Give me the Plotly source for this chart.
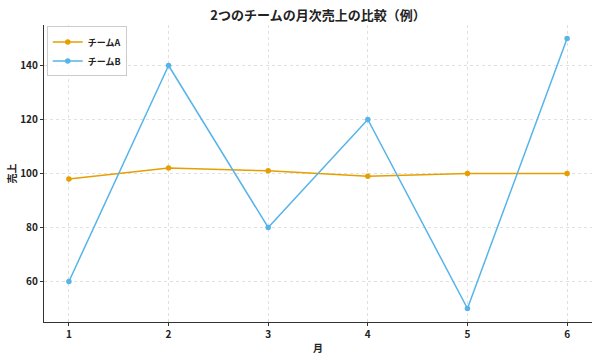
import plotly.graph_objects as go

months = [1, 2, 3, 4, 5, 6]
team_a = [98, 102, 101, 99, 100, 100]
team_b = [60, 140, 80, 120, 50, 150]
y_ticks = [60, 80, 100, 120, 140]

FONT = "Noto Sans CJK JP"

fig = go.Figure()
fig.add_trace(go.Scatter(x=months, y=team_a, mode="lines+markers", name="<b>チームA</b>",
                         line=dict(color="#E69F00", width=1.5), marker=dict(size=5.5, color="#E69F00")))
fig.add_trace(go.Scatter(x=months, y=team_b, mode="lines+markers", name="<b>チームB</b>",
                         line=dict(color="#56B4E9", width=1.5), marker=dict(size=5.5, color="#56B4E9")))

fig.update_layout(
    width=600, height=360,
    margin=dict(l=44, r=8, t=25, b=36),
    paper_bgcolor="white", plot_bgcolor="white",
    font=dict(family=FONT, color="#222", size=10),
    title=dict(text="<b>2つのチームの月次売上の比較（例）</b>", x=0.53, xanchor="center",
               y=0.958, yanchor="middle", font=dict(size=13, color="#222")),
    showlegend=True,
    legend=dict(x=0.005, y=0.995, xanchor="left", yanchor="top", bordercolor="#ccc", borderwidth=1,
                bgcolor="rgba(255,255,255,0.8)", font=dict(size=9), itemwidth=30, tracegroupgap=0),
)
fig.update_xaxes(range=[0.75, 6.25], tickvals=months, ticktext=[f"<b>{m}</b>" for m in months],
                 showline=True, linecolor="#333", linewidth=1.2, ticks="outside", ticklen=3,
                 tickcolor="#333", showgrid=True, gridcolor="#e0e0e0", griddash="dot", gridwidth=1,
                 zeroline=False, title=dict(text="<b>月</b>", standoff=4, font=dict(size=10)))
fig.update_yaxes(range=[45, 155], tickvals=y_ticks, ticktext=[f"<b>{v}</b>" for v in y_ticks],
                 showline=True, linecolor="#333", linewidth=1.2, ticks="outside", ticklen=3,
                 tickcolor="#333", showgrid=True, gridcolor="#e0e0e0", griddash="dot", gridwidth=1,
                 zeroline=False, title=dict(text="<b>売上</b>", standoff=1, font=dict(size=10)))

fig.write_html("out.html")
